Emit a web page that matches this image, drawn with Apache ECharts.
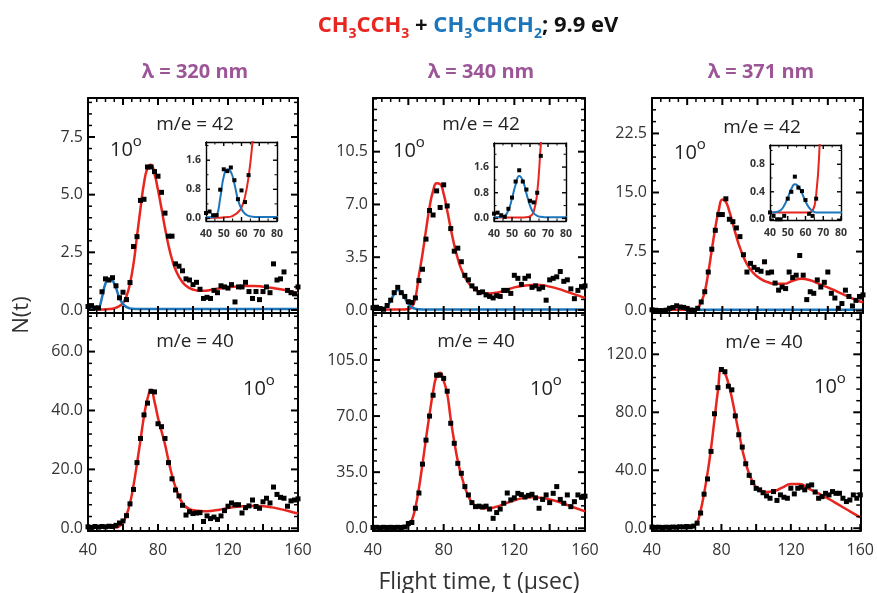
<!DOCTYPE html>
<html>
<head>
<meta charset="utf-8">
<script src="https://cdn.jsdelivr.net/npm/echarts@6/dist/echarts.min.js"></script>
<style>
  html, body { margin: 0; padding: 0; background: #fff; }
  #chart { width: 877px; height: 593px; }
</style>
</head>
<body>
<div id="chart"></div>
<script>
// ---- data ----
const wavelengths = ['λ = 320 nm', 'λ = 340 nm', 'λ = 371 nm']
const masses = ['m/e = 42', 'm/e = 40']

const times = [40,42,44,46,48,50,52,54,56,58,60,62,64,66,68,70,72,74,76,78,80,82,84,86,88,90,92,94,96,98,100,102,104,106,108,110,112,114,116,118,120,122,124,126,128,130,132,134,136,138,140,142,144,146,148,150,152,154,156,158,160]
const fitTimes = [40,42,44,46,48,50,52,54,56,58,60,62,64,66,68,70,72,74,76,78,80,82,84,86,88,90,94,98,102,106,110,115,120,125,130,135,140,145,150,155,160]

// 320 nm
const pts320_42 = [0.15,0.19,0.09,0.09,0.79,1.35,1.3,1.4,1.05,0.53,0.77,0.45,1.19,2.75,3.18,4.75,4.8,6.2,6.2,6.0,5.8,5.1,4.2,3.2,3.2,2.0,1.9,1.7,1.35,1.3,1.1,1.2,0.9,0.5,0.55,0.5,0.85,0.75,1.05,1.0,0.95,1.1,0.35,1.0,1.0,1.2,0.8,0.5,0.8,0.45,0.8,1.0,0.75,2.0,1.3,1.35,1.65,0.85,0.75,0.7,1.0]
const red320_42 = [0.02,0.02,0.02,0.02,0.02,0.03,0.04,0.05,0.1,0.17,0.3,0.6,1.15,2.0,3.2,4.4,5.5,6.15,6.3,5.9,5.2,4.4,3.55,2.8,2.2,1.75,1.2,0.95,0.85,0.83,0.87,0.93,0.98,1.02,1.04,1.04,1.01,0.96,0.9,0.82,0.72]
const blue320_42 = [0.03,0.03,0.04,0.08,0.55,1.15,1.35,1.28,0.95,0.52,0.26,0.13,0.07,0.05,0.04,0.04,0.04,0.04,0.04,0.04,0.04,0.04,0.04,0.04,0.04,0.04,0.04,0.04,0.04,0.04,0.04,0.04,0.04,0.04,0.04,0.04,0.04,0.04,0.04,0.04,0.04]
const pts320_40 = [0.5,0.3,0.6,0.4,0.6,0.5,0.7,0.6,1.0,1.8,2.5,4.3,8.3,13.2,22.3,30.5,38.5,42.5,46.5,46.3,35.5,34.5,30.5,22.3,16.8,13.0,11.0,7.8,4.5,5.6,5.0,5.2,5.3,2.3,4.2,3.3,3.8,3.0,4.2,6.0,7.5,8.6,8.0,8.0,5.2,7.0,7.6,9.6,7.4,6.8,9.0,10.2,8.6,14.0,11.5,10.5,10.2,7.5,9.3,9.6,10.0]
const red320_40 = [0.3,0.3,0.3,0.3,0.3,0.3,0.3,0.3,0.3,0.8,2.0,4.5,8.5,14.5,22,30,38,44,47,43,37.5,33,28.5,23,18,14,8.5,6.5,6.0,5.8,5.9,6.3,6.9,7.3,7.5,7.6,7.5,7.1,6.5,5.8,5.0]

// 340 nm
const pts340_42 = [0.15,0.18,0.1,0.05,0.3,0.65,1.15,1.5,1.15,0.9,0.55,0.5,0.8,1.95,2.7,4.7,6.6,6.3,7.9,6.8,8.3,6.9,5.4,3.9,4.1,3.2,2.3,2.0,1.6,1.4,1.15,1.2,1.0,0.9,0.8,0.95,0.9,1.3,1.3,1.1,2.3,2.1,1.7,2.1,2.25,1.5,1.6,1.4,1.5,0.65,2.0,2.1,2.2,2.55,1.9,2.0,1.4,0.75,1.3,1.55,1.6]
const red340_42 = [0.03,0.03,0.03,0.03,0.03,0.03,0.03,0.03,0.03,0.04,0.06,0.2,0.8,2.3,3.7,5.3,6.8,7.9,8.4,8.35,7.7,6.6,5.4,4.3,3.4,2.7,1.8,1.35,1.15,1.1,1.15,1.3,1.5,1.6,1.65,1.65,1.55,1.4,1.2,1.0,0.8]
const blue340_42 = [0.04,0.04,0.05,0.08,0.25,0.62,1.05,1.32,1.18,0.78,0.4,0.17,0.08,0.05,0.04,0.04,0.04,0.04,0.04,0.04,0.04,0.04,0.04,0.04,0.04,0.04,0.04,0.04,0.04,0.04,0.04,0.04,0.04,0.04,0.04,0.04,0.04,0.04,0.04,0.04,0.04]
const pts340_40 = [0.5,0.6,0.4,0.6,0.5,0.6,0.5,0.6,0.5,0.8,3.0,3.6,12.5,22,40,55,70,83,95.5,95.5,93.5,85.5,65.5,53,40.5,34.3,26,20.8,16,13.5,13.8,13.3,13.8,12,6.2,9.8,12,15.6,22,17.7,19,21.8,21,19.5,20.5,21.2,19,12.5,18,20.8,16,21.8,26,18,15.6,20.8,13.5,16.6,20.8,19.3,20]
const red340_40 = [0.5,0.5,0.5,0.5,0.5,0.5,0.5,0.5,0.5,0.5,1.5,5,13,25,40,56,71,85,95,97,92,84,68,54,42,33,20,14,12.5,12.5,13.5,15.5,17.5,18.8,19.3,19,18,16.5,14.5,12.5,10.5]

// 371 nm
const pts371_42 = [0.1,0.05,0.0,0.0,0.05,0.3,0.4,0.62,0.46,0.41,0.28,0.08,0.05,0.3,1.1,2.4,4.9,7.8,10.2,12.2,12.2,14.2,11.6,11.3,10.5,9.4,7.1,4.9,6.0,5.5,5.2,5.0,6.2,4.8,4.9,3.5,2.6,3.0,2.8,4.9,4.2,4.5,7.0,4.5,1.4,2.4,2.2,3.9,3.0,3.6,4.9,2.2,1.6,0.3,0.9,2.6,1.8,0.6,1.3,1.8,2.0]
const red371_42 = [0.1,0.1,0.1,0.1,0.1,0.1,0.1,0.1,0.1,0.1,0.1,0.1,0.12,0.35,1.1,2.4,4.8,7.7,10.5,12.8,14.1,13.8,12.6,11.0,9.4,8.0,5.9,4.7,4.0,3.6,3.4,3.4,3.8,4.05,3.85,3.4,2.95,2.45,1.95,1.45,1.05]
const blue371_42 = [0.1,0.1,0.11,0.13,0.2,0.31,0.44,0.51,0.48,0.38,0.26,0.17,0.12,0.1,0.1,0.1,0.1,0.1,0.1,0.1,0.1,0.1,0.1,0.1,0.1,0.1,0.1,0.1,0.1,0.1,0.1,0.1,0.1,0.1,0.1,0.1,0.1,0.1,0.1,0.1,0.1]
const pts371_40 = [0.8,0.6,0.7,0.5,0.7,0.6,0.8,0.7,1.0,0.9,1.2,1.0,1.5,3.5,10.5,23.5,34,53,79,97,109.5,108,98,95.5,77.5,64.5,56,44.5,36.5,31.5,27.5,26.5,24.5,22.3,20.7,25.3,19.2,23,21.4,20.7,27.6,23.7,27.6,28.3,26.5,29.2,29.9,25,20.7,21.8,24.1,23,25.3,24.1,24.1,20.7,18.4,19.5,23,20.7,23]
const red371_40 = [0.5,0.5,0.5,0.5,0.5,0.5,0.5,0.5,0.5,0.5,0.5,0.5,1.5,4,12,24,38,55,75,95,110,107,100,90,78,66,45,32,26.5,25,25.5,28,30.5,30.5,27.5,24.5,21.5,18,14.5,11,7.5]

// tick labels / tick positions
const xTickLabels = [40, 80, 120, 160]
const xMajorTicks = [40, 60, 80, 100, 120, 140, 160]
const insetXTicks = [40, 50, 60, 70, 80]
const yTicks320_42 = [0, 2.5, 5, 7.5]
const yTicks320_40 = [0, 20, 40, 60]
const yTicks340_42 = [0, 3.5, 7, 10.5]
const yTicks340_40 = [0, 35, 70, 105]
const yTicks371_42 = [0, 7.5, 15, 22.5]
const yTicks371_40 = [0, 40, 80, 120]
const insetTicks320 = [0, 0.8, 1.6]
const insetTicks340 = [0, 0.8, 1.6]
const insetTicks371 = [0, 0.4, 0.8]

// ---- layout ----
const RED = '#e8251f', BLUE = '#1b76bb', PURPLE = '#9c5597', INK = '#000', TXT = '#333'
const FONT = '"Open Sans", sans-serif'

const cols = [{left: 88, width: 210}, {left: 373, width: 212}, {left: 652, width: 211}]
const rowTop = {top: 98, height: 215}
const rowBot = {top: 313, height: 218}

const panels = [
  {col: 0, row: rowTop, y: [-0.13, 9.19], ticks: yTicks320_42, minor: 0.5, pts: pts320_42, red: red320_42, blue: blue320_42},
  {col: 0, row: rowBot, y: [-0.92, 73.1], ticks: yTicks320_40, minor: 4, pts: pts320_40, red: red320_40, xLabels: true},
  {col: 1, row: rowTop, y: [-0.2, 14.06], ticks: yTicks340_42, minor: 0.7, pts: pts340_42, red: red340_42, blue: blue340_42},
  {col: 1, row: rowBot, y: [-1.7, 134.3], ticks: yTicks340_40, minor: 7, pts: pts340_40, red: red340_40, xLabels: true},
  {col: 2, row: rowTop, y: [-0.3, 27.0], ticks: yTicks371_42, minor: 1.5, pts: pts371_42, red: red371_42, blue: blue371_42},
  {col: 2, row: rowBot, y: [-1.9, 148.5], ticks: yTicks371_40, minor: 8, pts: pts371_40, red: red371_40, xLabels: true}
]
const insets = [
  {box: {left: 206, top: 142, width: 71, height: 79}, y: [-0.07, 2.1], ticks: insetTicks320, minor: 0.4, pts: pts320_42, red: red320_42, blue: blue320_42},
  {box: {left: 494, top: 143, width: 72, height: 78}, y: [-0.08, 2.35], ticks: insetTicks340, minor: 0.4, pts: pts340_42, red: red340_42, blue: blue340_42},
  {box: {left: 770, top: 145, width: 71, height: 75}, y: [-0.01, 1.08], ticks: insetTicks371, minor: 0.2, pts: pts371_42, red: red371_42, blue: blue371_42}
]

function zip(xs, ys) { return xs.map((x, i) => [x, ys[i]]) }

function minorValues(range, step, majors) {
  const out = []
  for (let k = Math.ceil(range[0] / step); k * step <= range[1] + 1e-9; k++) {
    const v = +(k * step).toFixed(4)
    if (!majors.some(m => Math.abs(m - v) < 1e-6)) out.push(v)
  }
  return out
}

// inward tick marks on all four sides, placed through the axes' own scales
function renderTicks(params, api) {
  const cs = params.coordSys
  const kind = api.value(2), len = api.value(3), w = api.value(4)
  const pt = api.coord([api.value(0), api.value(1)])
  const bottom = cs.y + cs.height, right = cs.x + cs.width
  if (kind === 0) {
    const x = pt[0]
    return {type: 'group', children: [
      {type: 'line', shape: {x1: x, y1: bottom, x2: x, y2: bottom - len}, style: {stroke: INK, lineWidth: w}},
      {type: 'line', shape: {x1: x, y1: cs.y, x2: x, y2: cs.y + len}, style: {stroke: INK, lineWidth: w}}
    ]}
  }
  const y = pt[1]
  return {type: 'group', children: [
    {type: 'line', shape: {x1: cs.x, y1: y, x2: cs.x + len, y2: y}, style: {stroke: INK, lineWidth: w}},
    {type: 'line', shape: {x1: right, y1: y, x2: right - len, y2: y}, style: {stroke: INK, lineWidth: w}}
  ]}
}

const grid = [], xAxis = [], yAxis = [], series = []

function addPanel(box, p, small) {
  const g = grid.length
  grid.push({left: box.left, top: box.top, width: box.width, height: box.height})
  const lw = small ? 1.4 : 2
  const majLen = small ? 4 : 7, minLen = small ? 2.5 : 4, minW = small ? 1 : 1.5
  const xMax = small ? 80 : 160
  const xi = xAxis.length, yi = yAxis.length
  const axisLine = () => ({show: true, onZero: false, lineStyle: {color: INK, width: lw}})
  const xLabelsOn = small || p.xLabels
  const xLabelStyle = small
    ? {show: true, margin: 8, color: TXT, fontSize: 10.5, fontWeight: 'bold', fontFamily: FONT}
    : {show: true, margin: 11, color: TXT, fontSize: 16, fontFamily: FONT,
       formatter: v => (xTickLabels.indexOf(v) >= 0 ? String(v) : '')}

  ;['bottom', 'top'].forEach(pos => {
    xAxis.push({
      gridIndex: g, type: 'value', position: pos, min: 40, max: xMax, interval: small ? 10 : 20,
      splitLine: {show: false}, axisLine: axisLine(),
      axisTick: {show: false}, minorTick: {show: false},
      axisLabel: (pos === 'bottom' && xLabelsOn) ? xLabelStyle : {show: false}
    })
  })
  ;['left', 'right'].forEach(pos => {
    yAxis.push({
      gridIndex: g, type: 'value', position: pos, min: p.y[0], max: p.y[1],
      splitLine: {show: false}, axisLine: axisLine(),
      axisTick: {show: false}, minorTick: {show: false},
      axisLabel: pos === 'left'
        ? {show: true, customValues: p.ticks.slice(), margin: 5, color: TXT, fontSize: small ? 10.5 : 16,
           fontWeight: small ? 'bold' : 'normal', fontFamily: FONT, formatter: v => v.toFixed(1)}
        : {show: false}
    })
  })

  // tick marks
  const xMaj = small ? insetXTicks : xMajorTicks
  const tickData = []
  xMaj.forEach(v => tickData.push([v, p.y[0], 0, majLen, lw]))
  minorValues([40, xMax], 5, xMaj).forEach(v => tickData.push([v, p.y[0], 0, minLen, minW]))
  p.ticks.forEach(v => tickData.push([40, v, 1, majLen, lw]))
  minorValues(p.y, p.minor, p.ticks).forEach(v => tickData.push([40, v, 1, minLen, minW]))
  series.push({type: 'custom', xAxisIndex: xi, yAxisIndex: yi, data: tickData, renderItem: renderTicks,
    silent: true, clip: false, z: 5})

  series.push({type: 'line', xAxisIndex: xi, yAxisIndex: yi, data: zip(fitTimes, p.red), smooth: true,
    showSymbol: false, lineStyle: {color: RED, width: small ? 2 : 2.5}, z: 2})
  if (p.blue) {
    series.push({type: 'line', xAxisIndex: xi, yAxisIndex: yi, data: zip(fitTimes, p.blue), smooth: true,
      showSymbol: false, lineStyle: {color: BLUE, width: small ? 2 : 2.5}, z: 3})
  }
  series.push({type: 'scatter', xAxisIndex: xi, yAxisIndex: yi, data: zip(times, p.pts), symbol: 'rect',
    symbolSize: small ? 4 : 5, itemStyle: {color: INK, opacity: 1}, z: 4})
}

panels.forEach(p => addPanel({left: cols[p.col].left, width: cols[p.col].width, top: p.row.top, height: p.row.height}, p, false))
insets.forEach(p => addPanel(p.box, p, true))

// ---- texts ----
function txt(x, y, text, extra) {
  return {type: 'text', x: x, y: y, silent: true, z: 10,
    style: Object.assign({text: text, fill: '#222', fontFamily: FONT, fontSize: 19,
      align: 'center', verticalAlign: 'middle', textAlign: 'center', textVerticalAlign: 'middle'}, extra || {})}
}
const sub = c => ({fill: c, fontFamily: FONT, fontSize: 14, fontWeight: 'bold', lineHeight: 14, verticalAlign: 'bottom'})
const big = c => ({fill: c, fontFamily: FONT, fontSize: 22, fontWeight: 'bold', lineHeight: 30, verticalAlign: 'middle'})
const degRich = {
  n: {fill: '#222', fontFamily: FONT, fontSize: 20, lineHeight: 32, verticalAlign: 'middle'},
  o: {fill: '#222', fontFamily: FONT, fontSize: 15, lineHeight: 10, verticalAlign: 'top'}
}
const deg = (x, y) => txt(x, y, '{n|10}{o|o}', {rich: degRich, align: 'left', textAlign: 'left'})

const graphic = [
  txt(468, 26, '{r|CH}{rs|3}{r|CCH}{rs|3}{k| + }{b|CH}{bs|3}{b|CHCH}{bs|2}{k|; 9.9 eV}', {
    rich: {r: big(RED), rs: sub(RED), b: big(BLUE), bs: sub(BLUE), k: big('#111')}
  }),
  txt(195, 72, wavelengths[0], {fill: PURPLE, fontWeight: 'bold', fontSize: 20}),
  txt(481, 72, wavelengths[1], {fill: PURPLE, fontWeight: 'bold', fontSize: 20}),
  txt(761, 72, wavelengths[2], {fill: PURPLE, fontWeight: 'bold', fontSize: 20}),
  txt(195, 125, masses[0]), txt(195, 342, masses[1]),
  txt(481, 125, masses[0]), txt(476, 342, masses[1]),
  txt(762, 128, masses[0]), txt(764, 343, masses[1]),
  deg(110, 150), deg(393, 151), deg(674, 153),
  deg(243, 389), deg(530, 389), deg(814, 387),
  txt(479, 582, 'Flight time, t (µsec)', {fontSize: 23, fill: TXT}),
  Object.assign(txt(22, 315, 'N(t)', {fontSize: 22, fill: TXT}), {rotation: Math.PI / 2})
]

const chart = echarts.init(document.getElementById('chart'))
chart.setOption({
  animation: false,
  grid: grid,
  xAxis: xAxis,
  yAxis: yAxis,
  series: series,
  graphic: graphic
})
</script>
</body>
</html>
